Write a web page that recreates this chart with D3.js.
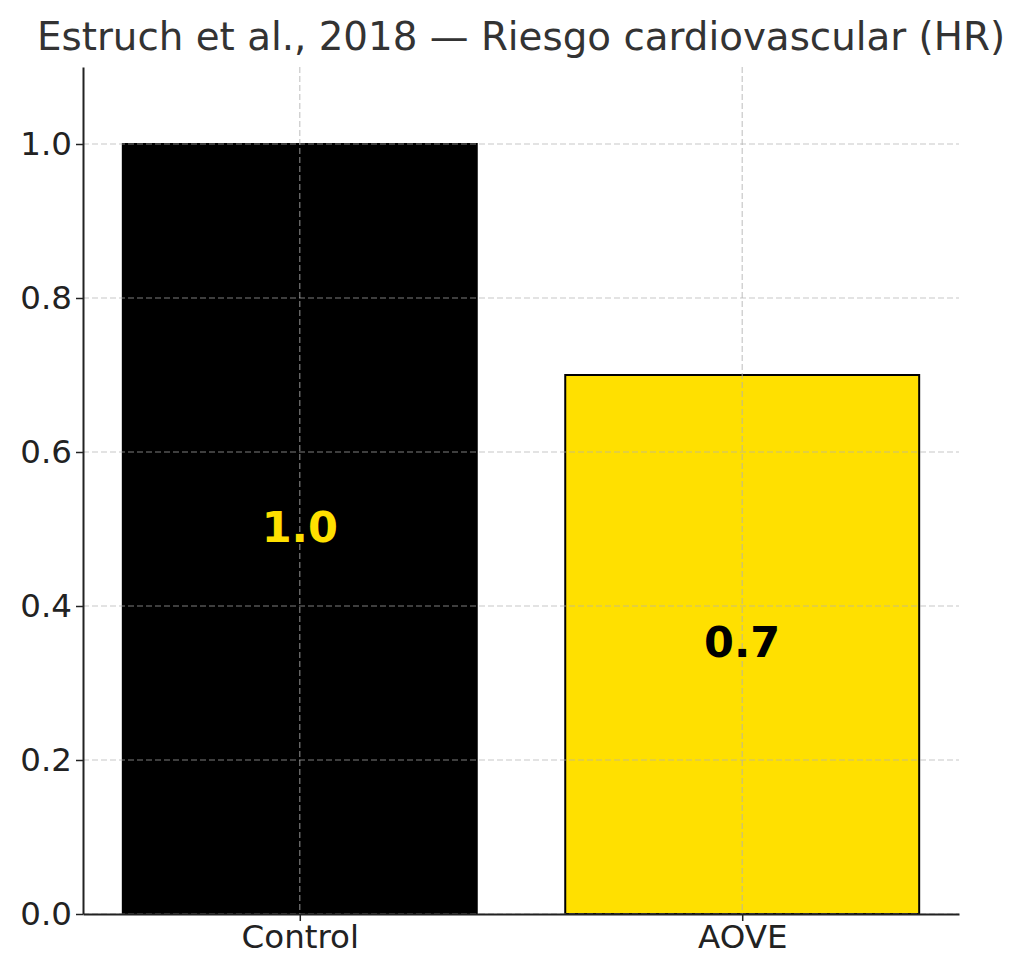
<!DOCTYPE html>
<html lang="es">
<head>
  <meta charset="UTF-8">
  <title>Estruch et al., 2018 — Riesgo cardiovascular (HR)</title>
  <script src="https://d3js.org/d3.v7.min.js"></script>
  <style>
    body { margin: 0; background: #fff; }
    svg text { font-family: "DejaVu Sans", sans-serif; }
  </style>
</head>
<body>
  <svg id="chart" width="1024" height="977"></svg>
  <script>
    // datos
    const categories = ["Control", "AOVE"];
    const hrValues = [1.0, 0.7];
    const barColors = ["#000000", "#FFE000"];
    const labelColors = ["#FFE000", "#000000"];
    const yTicks = [0, 0.2, 0.4, 0.6, 0.8, 1.0];

    const svg = d3.select("#chart");
    const margin = { top: 67, right: 65, bottom: 63, left: 83 };
    const width = 1024 - margin.left - margin.right;
    const height = 977 - margin.top - margin.bottom;

    const g = svg.append("g")
      .attr("transform", `translate(${margin.left},${margin.top})`);

    // escala x continua como en matplotlib (centros 0 y 1, ancho 0.8)
    const x = d3.scaleLinear().domain([-0.49, 1.49]).range([0, width]);
    const y = d3.scaleLinear().domain([0, 1.1]).range([height, 0]);
    const barW = 0.8;

    svg.append("text")
      .attr("x", margin.left + width / 2)
      .attr("y", 50)
      .attr("text-anchor", "middle")
      .attr("font-size", 38.8)
      .attr("fill", "#333")
      .text("Estruch et al., 2018 — Riesgo cardiovascular (HR)");

    // barras
    g.selectAll("rect.bar")
      .data(hrValues)
      .enter()
      .append("rect")
      .attr("class", "bar")
      .attr("x", (d, i) => x(i - barW / 2))
      .attr("y", d => y(d))
      .attr("width", (d, i) => x(i + barW / 2) - x(i - barW / 2))
      .attr("height", d => y(0) - y(d))
      .attr("fill", (d, i) => barColors[i])
      .attr("stroke", "#000")
      .attr("stroke-width", 2);

    // rejilla encima de las barras
    const grid = g.append("g").attr("class", "grid");
    grid.selectAll("line.h")
      .data(yTicks)
      .enter()
      .append("line")
      .attr("x1", 0).attr("x2", width)
      .attr("y1", d => y(d)).attr("y2", d => y(d));
    grid.selectAll("line.v")
      .data(categories)
      .enter()
      .append("line")
      .attr("x1", (d, i) => x(i)).attr("x2", (d, i) => x(i))
      .attr("y1", 0).attr("y2", height);
    grid.selectAll("line")
      .attr("stroke", "#b0b0b0")
      .attr("stroke-opacity", 0.7)
      .attr("stroke-width", 1.2)
      .attr("stroke-dasharray", "6,3");

    // etiquetas de valor
    g.selectAll("text.val")
      .data(hrValues)
      .enter()
      .append("text")
      .attr("class", "val")
      .attr("x", (d, i) => x(i))
      .attr("y", d => y(d / 2))
      .attr("dy", "0.3em")
      .attr("text-anchor", "middle")
      .attr("font-size", 43)
      .attr("font-weight", "bold")
      .attr("fill", (d, i) => labelColors[i])
      .text(d => d.toFixed(1));

    // ejes
    const xAxis = g.append("g")
      .attr("transform", `translate(0,${height})`)
      .call(d3.axisBottom(x).tickValues([0, 1]).tickFormat(i => categories[i])
        .tickSize(7).tickSizeOuter(0).tickPadding(4));
    const yAxis = g.append("g")
      .call(d3.axisLeft(y).tickValues(yTicks).tickFormat(d3.format(".1f"))
        .tickSize(7).tickSizeOuter(0).tickPadding(4));

    [xAxis, yAxis].forEach(a => {
      a.select(".domain").attr("stroke", "#222").attr("stroke-width", 2);
      a.selectAll(".tick line").attr("stroke", "#222").attr("stroke-width", 1.5);
      a.selectAll(".tick text")
        .attr("font-family", "DejaVu Sans, sans-serif")
        .attr("font-size", 32.5)
        .attr("fill", "#222");
    });
  </script>
</body>
</html>
